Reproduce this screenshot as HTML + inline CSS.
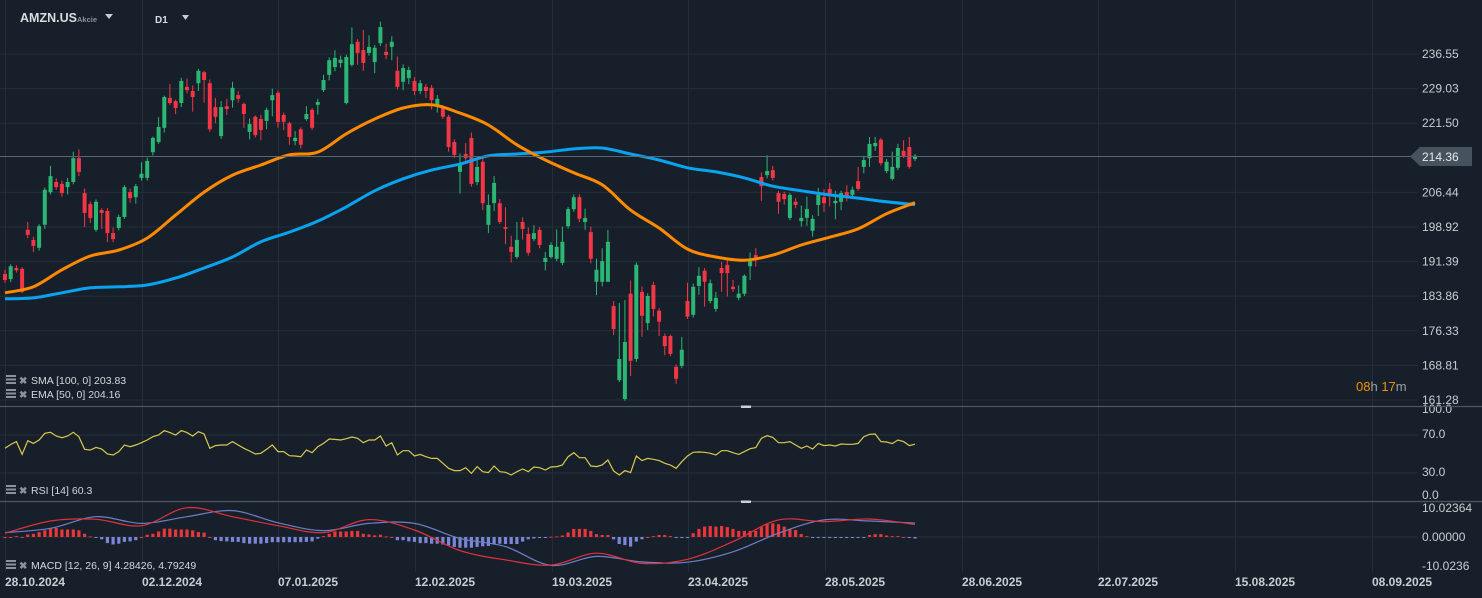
<!DOCTYPE html>
<html><head><meta charset="utf-8"><title>AMZN.US D1</title>
<style>
html,body{margin:0;padding:0;background:#17202a;width:1482px;height:598px;overflow:hidden}
svg{display:block;font-family:"Liberation Sans",sans-serif}
</style></head>
<body>
<svg id="chart" width="1482" height="598" viewBox="0 0 1482 598" xmlns="http://www.w3.org/2000/svg">
<rect x="0" y="0" width="1482" height="598" fill="#17202a"/>
<g id="grid" stroke="#242e38" stroke-width="1"></g>
<g id="candles"></g>
<g id="mas"></g>
<line x1="0" y1="156.5" x2="1412" y2="156.5" stroke="#5b6670" stroke-width="1"/>
<g>
<polygon points="1410,156.5 1420,147 1472,147 1472,166 1420,166" fill="#46535e"/>
<text x="1422" y="161" font-size="12" fill="#e6e9ec">214.36</text>
</g>
<g id="axis" font-size="12" fill="#c9cdd1"></g>
<g id="rsi"></g>
<g id="macd"></g>
<line x1="0" y1="406.5" x2="1482" y2="406.5" stroke="#4b5662" stroke-width="1.2"/>
<line x1="0" y1="501.5" x2="1482" y2="501.5" stroke="#4b5662" stroke-width="1.2"/>
<rect x="741" y="405.5" width="10" height="2.5" fill="#d0d0d0"/>
<rect x="741" y="500.5" width="10" height="2.5" fill="#d0d0d0"/>
<g id="dates" font-size="12" font-weight="bold" fill="#c9cdd1"></g>
<g>
<text x="20" y="22" font-size="12.5" font-weight="bold" fill="#d8dcdf">AMZN.US</text>
<text x="77" y="22" font-size="7.5" font-weight="bold" fill="#8a939b">Akcie</text>
<polygon points="105,14 113,14 109,19" fill="#c9cdd1"/>
</g>
<g>
<text x="155" y="23" font-size="10" font-weight="bold" fill="#d8dcdf">D1</text>
<polygon points="182,15 189,15 185.5,20" fill="#c9cdd1"/>
</g>
<g font-size="10.5" fill="#d4d8dc">
<rect x="6" y="375" width="10" height="2" fill="#8a939b"/><rect x="6" y="378.5" width="10" height="2" fill="#8a939b"/><rect x="6" y="382" width="10" height="2" fill="#8a939b"/>
<text x="19" y="384" font-size="10" fill="#8a939b" font-weight="bold">✖</text>
<text x="31" y="384">SMA [100,  0] 203.83</text>
</g>
<g font-size="10.5" fill="#d4d8dc">
<rect x="6" y="389" width="10" height="2" fill="#8a939b"/><rect x="6" y="392.5" width="10" height="2" fill="#8a939b"/><rect x="6" y="396" width="10" height="2" fill="#8a939b"/>
<text x="19" y="398" font-size="10" fill="#8a939b" font-weight="bold">✖</text>
<text x="31" y="398">EMA [50,  0] 204.16</text>
</g>
<g font-size="10.5" fill="#d4d8dc">
<rect x="6" y="485" width="10" height="2" fill="#8a939b"/><rect x="6" y="488.5" width="10" height="2" fill="#8a939b"/><rect x="6" y="492" width="10" height="2" fill="#8a939b"/>
<text x="19" y="494" font-size="10" fill="#8a939b" font-weight="bold">✖</text>
<text x="31" y="494">RSI [14]  60.3</text>
</g>
<g font-size="10.5" fill="#d4d8dc">
<rect x="6" y="560" width="10" height="2" fill="#8a939b"/><rect x="6" y="563.5" width="10" height="2" fill="#8a939b"/><rect x="6" y="567" width="10" height="2" fill="#8a939b"/>
<text x="19" y="569" font-size="10" fill="#8a939b" font-weight="bold">✖</text>
<text x="31" y="569">MACD [12,  26,  9] 4.28426,  4.79249</text>
</g>
<text x="1356" y="391" font-size="13"><tspan fill="#f0900a">08</tspan><tspan fill="#9aa2a9">h </tspan><tspan fill="#f0900a">17</tspan><tspan fill="#9aa2a9">m</tspan></text>
</svg>
<script>
const opens=[188.7,187.6,190.0,189.8,198.3,196.1,194.4,199.4,206.5,208.7,208.3,207.6,208.7,213.9,206.3,203.9,198.3,202.6,202.4,197.6,198.7,201.1,206.5,205.4,209.6,209.6,215.2,217.4,220.5,227.0,226.3,225.9,229.4,228.5,230.2,232.6,230.2,225.0,218.7,225.2,226.5,227.6,225.7,219.6,222.9,222.4,222.0,226.5,228.1,223.3,221.5,217.6,220.2,222.4,224.4,225.5,228.7,232.0,233.7,234.6,225.9,234.2,239.2,237.4,236.8,234.8,238.9,237.0,238.1,232.9,230.5,231.3,230.7,228.5,229.4,229.2,225.5,224.8,222.9,217.4,210.9,214.8,218.3,208.7,213.1,199.4,204.1,204.1,198.9,194.6,192.4,200.0,197.4,196.3,198.3,191.3,192.4,192.0,191.1,199.1,202.8,205.4,200.0,197.8,187.0,187.0,187.0,181.7,165.6,161.5,184.4,170.2,184.8,178.0,186.3,180.7,175.2,175.2,168.5,168.7,182.8,179.8,186.1,189.4,182.8,181.1,190.0,190.7,185.9,183.5,184.4,190.4,192.8,209.8,210.2,211.3,206.3,206.1,200.9,204.4,200.2,200.9,198.1,203.7,205.4,207.2,204.1,204.4,206.5,205.9,208.9,212.0,213.9,216.5,217.9,211.1,209.4,211.8,215.5,216.3,213.7];
const closes=[187.4,190.4,189.5,184.8,197.2,194.8,199.1,207.0,210.0,207.6,206.3,208.7,213.9,210.9,202.0,200.9,204.4,202.0,197.6,196.3,201.1,207.6,205.2,207.8,210.5,213.3,218.3,220.7,227.2,225.9,224.8,230.7,228.7,227.2,232.9,230.9,220.2,222.9,225.0,224.6,229.2,226.8,223.5,221.3,218.9,220.0,224.4,227.6,221.8,221.8,218.5,218.3,216.8,223.5,220.5,226.1,230.9,235.2,235.7,235.3,235.9,238.7,236.8,234.6,238.1,237.9,242.4,236.3,239.2,229.4,233.5,233.1,228.5,230.2,228.5,226.5,226.8,222.9,216.3,214.6,212.8,213.9,208.3,212.0,204.1,203.7,208.5,200.0,198.5,193.5,196.1,198.5,193.3,197.6,195.0,192.2,195.0,194.6,195.7,202.8,205.4,200.7,200.9,192.0,189.6,191.5,195.7,176.7,170.2,173.9,169.8,190.7,179.6,183.9,181.1,178.3,173.0,171.3,165.9,172.2,179.4,185.9,188.3,187.0,186.7,183.5,188.9,188.9,185.4,184.4,188.3,191.5,192.2,207.8,211.1,209.6,204.4,205.0,205.9,203.7,200.9,202.8,200.7,205.9,204.1,205.7,204.6,206.3,205.4,207.0,207.2,213.5,217.0,217.2,212.8,213.1,212.0,216.1,214.4,212.0,214.4];
const highs=[189.6,190.8,190.6,190.2,200.0,196.8,199.5,207.5,212.2,209.5,209.0,209.6,215.3,215.8,207.3,204.5,204.9,203.0,203.0,198.8,201.6,208.0,207.3,208.3,213.0,214.0,218.6,222.8,227.5,230.0,226.6,231.4,231.2,229.7,233.3,232.9,231.0,227.0,226.3,226.8,230.5,228.5,226.0,222.5,223.2,223.3,224.9,229.0,228.6,223.8,221.8,219.8,220.6,225.2,224.8,226.8,232.0,235.8,237.4,236.2,236.4,242.3,239.8,241.8,240.6,238.5,243.6,238.8,240.4,236.0,234.3,233.8,231.5,230.9,230.0,229.8,227.6,225.4,223.3,218.0,214.9,217.2,219.5,213.6,214.3,206.0,210.0,205.0,203.2,197.0,200.0,201.0,198.8,199.3,198.9,193.5,195.6,198.4,199.0,203.3,206.0,206.0,202.9,199.0,192.0,194.3,198.3,182.8,182.4,183.0,187.3,191.2,186.0,184.5,187.0,181.3,175.8,175.5,169.0,175.0,186.8,186.6,190.2,190.0,187.5,184.8,191.3,191.8,187.4,186.2,188.6,193.4,194.3,210.8,214.5,212.2,206.8,206.6,206.3,205.2,203.6,205.5,201.5,207.4,207.1,208.5,206.8,206.8,208.0,207.7,212.0,214.4,218.5,218.5,218.3,213.7,215.3,217.0,217.8,218.5,214.8];
const lows=[186.8,186.9,189.0,184.5,196.5,193.5,193.8,198.5,206.0,207.0,205.5,206.0,208.2,210.0,198.9,199.8,197.9,198.5,195.6,195.6,198.2,200.7,204.2,204.0,209.0,209.0,214.5,217.0,219.5,225.5,223.5,225.0,228.0,224.0,228.5,226.0,219.6,221.5,218.1,223.3,224.9,226.0,220.5,218.0,218.4,217.8,220.2,223.0,220.5,220.0,216.8,216.7,216.0,222.0,220.0,223.4,228.3,230.8,232.8,233.6,225.6,233.8,234.2,232.9,236.2,232.4,238.3,235.4,235.2,228.8,228.7,230.0,227.6,227.8,227.0,224.5,223.8,222.4,215.3,214.0,206.2,213.2,207.7,208.0,202.6,197.6,202.4,199.6,195.2,191.2,192.0,196.2,192.7,195.8,194.3,189.5,192.0,191.5,190.6,198.6,202.2,200.0,198.3,191.0,184.1,186.0,187.0,175.4,165.2,161.1,166.5,169.6,175.0,176.5,179.5,175.2,171.0,170.8,164.8,168.2,178.9,179.2,184.2,181.6,182.3,180.5,184.8,183.8,184.8,183.0,183.9,187.4,190.3,204.6,209.5,209.0,201.8,203.8,200.4,203.0,199.0,199.2,196.8,201.3,202.2,203.4,200.6,202.6,204.5,205.3,206.8,210.6,212.0,215.5,212.3,210.6,209.0,211.3,213.9,211.6,213.2];
const emaSample=[184.6,185.9,189.6,192.6,193.9,196.5,201.5,206.5,210.2,212.4,214.6,215.2,219.2,222.4,224.8,225.5,223.7,221.1,216.8,213.5,210.7,208.1,202.6,198.7,194.1,192.4,191.7,192.8,195.0,196.7,198.5,201.8,204.2];
const smaSample=[183.3,183.5,184.6,185.7,185.9,186.3,187.8,190.0,192.4,195.7,197.8,200.2,203.3,206.8,209.4,211.3,212.6,214.4,214.8,215.2,215.9,216.1,214.8,213.5,211.8,210.9,209.6,207.8,206.8,205.9,205.2,204.4,203.8];
const rsiValues=[56.0,60.0,63.0,49.6,64.0,61.2,64.7,71.8,72.8,68.9,67.2,68.9,72.8,68.2,54.9,54.2,57.0,55.3,50.0,48.9,52.5,59.5,57.7,59.5,61.9,64.7,68.2,70.0,74.6,72.5,70.0,74.6,72.5,68.9,73.5,71.1,56.0,58.8,59.5,59.5,63.0,59.5,56.0,53.2,50.0,50.7,54.9,59.5,52.5,52.5,48.2,47.9,47.2,54.2,51.4,57.7,61.2,65.8,65.4,64.7,66.1,67.9,66.5,61.9,64.7,64.7,68.9,58.4,61.9,48.9,53.5,53.5,47.9,49.6,47.2,45.4,45.4,40.2,34.9,32.5,32.5,35.6,29.6,36.7,31.4,30.4,37.4,31.4,
30.7,27.9,31.4,34.2,31.4,36.3,35.6,33.2,36.3,36.7,38.4,47.2,51.4,46.1,46.1,37.4,36.7,38.4,43.7,32.1,27.9,32.5,30.4,47.9,43.0,45.4,44.4,43.0,40.2,38.4,34.9,41.9,47.9,51.8,52.1,51.8,50.7,48.9,53.5,53.5,51.4,49.6,52.5,55.6,56.7,66.5,69.3,67.5,61.9,61.9,63.0,59.5,56.0,58.4,55.3,61.2,58.8,59.5,58.4,60.5,60.2,60.2,61.2,68.2,70.7,71.1,63.0,62.6,60.9,64.7,63.0,58.8,60.3];
const macdSample=[1.3,5.5,6.1,3.9,10.1,7.0,3.9,1.5,6.0,2.4,-4.7,-7.9,-9.7,-5.6,-9.1,-7.7,-1.6,5.9,5.3,6.2,4.3];
const signalSample=[1.5,3.0,7.0,4.7,7.0,9.1,4.9,2.2,4.7,4.7,-0.5,-3.3,-9.8,-6.7,-8.6,-8.7,-5.1,1.3,5.9,5.5,4.8];
const histValues=[0.0,0.0,0.3,0.0,0.9,1.1,1.7,2.3,2.9,3.1,2.6,2.6,2.6,2.3,1.1,0.2,-0.3,-0.8,-2.1,-2.6,-2.3,-1.7,-1.5,-1.1,0.0,0.8,1.1,1.9,2.9,2.9,2.6,2.6,2.6,2.3,1.7,1.5,0.0,-1.1,-1.4,-1.5,-1.7,-1.7,-2.1,-2.3,-2.3,-2.3,-2.1,-1.8,-1.8,-1.8,-1.8,-1.8,-1.8,-1.7,-1.5,-0.6,0.3,1.1,1.9,1.9,1.9,2.1,2.1,1.1,0.9,0.6,0.8,0.2,0.0,-1.1,-1.1,-1.5,-1.7,-2.1,-2.1,-2.3,-2.3,-2.6,-2.9,-3.4,-3.7,-3.7,-3.7,-3.4,-3.2,-3.1,-2.5,-2.3,
-2.4,-2.4,-2.4,-1.6,-0.8,-0.5,-0.2,-0.1,0.1,0.2,0.5,1.6,2.8,2.8,2.8,2.1,1.0,0.7,0.7,-0.8,-2.4,-2.8,-3.3,-1.6,-0.8,0.0,0.3,0.7,0.7,0.3,-0.1,-0.1,-0.1,1.3,2.8,3.6,3.8,3.6,3.8,3.4,2.8,2.1,2.1,2.1,2.1,3.4,4.7,4.7,4.4,3.6,2.8,2.4,1.0,0.3,-0.2,-0.2,-0.2,-0.2,-0.2,-0.2,-0.2,-0.2,-0.2,-0.2,0.7,1.0,1.0,0.5,0.3,0.3,0.0,-0.3,-0.5];
const priceTicks=[236.55,229.03,221.50,206.44,198.92,191.39,183.86,176.33,168.81,161.28];
const dateLabels=["28.10.2024","02.12.2024","07.01.2025","12.02.2025","19.03.2025","23.04.2025","28.05.2025","28.06.2025","22.07.2025","15.08.2025","08.09.2025"];

const NS="http://www.w3.org/2000/svg";
const N=160;
function xAt(i){return 5+i*(910/N);}
function yP(p){return 54+(236.55-p)*4.597;}
function yR(v){return 473-(v-30)*0.95;}
function yM(v){return 537-v*2.9;}
function mk(tag,attrs,parent){const e=document.createElementNS(NS,tag);for(const k in attrs)e.setAttribute(k,attrs[k]);parent.appendChild(e);return e;}
function smooth(pts){let d="M"+pts[0][0].toFixed(1)+","+pts[0][1].toFixed(1);for(let i=0;i<pts.length-1;i++){const p0=pts[Math.max(0,i-1)],p1=pts[i],p2=pts[i+1],p3=pts[Math.min(pts.length-1,i+2)];const c1x=p1[0]+(p2[0]-p0[0])/6,c1y=p1[1]+(p2[1]-p0[1])/6,c2x=p2[0]-(p3[0]-p1[0])/6,c2y=p2[1]-(p3[1]-p1[1])/6;d+=" C"+c1x.toFixed(1)+","+c1y.toFixed(1)+" "+c2x.toFixed(1)+","+c2y.toFixed(1)+" "+p2[0].toFixed(1)+","+p2[1].toFixed(1);}return d;}

const grid=document.getElementById('grid');
const gridX=[5,142,278,415,552,688,825,962,1098,1235,1372];
gridX.forEach(x=>{const l=mk('line',{x1:x+0.5,y1:0,x2:x+0.5,y2:572},grid);

});
const axis=document.getElementById('axis');
priceTicks.forEach(p=>{const y=yP(p);const l=mk('line',{x1:0,y1:y.toFixed(1),x2:1418,y2:y.toFixed(1)},grid);


const t=mk('text',{x:1422,y:(y+4).toFixed(1)},axis);t.textContent=p.toFixed(2);

});

const cg=document.getElementById('candles');
for(let i=0;i<opens.length;i++){const o=opens[i],c=closes[i],up=c>=o;const col=up?'#2bb673':'#f23645';const x=xAt(i);
const w=mk('line',{x1:x.toFixed(1),y1:yP(highs[i]).toFixed(1),x2:x.toFixed(1),y2:yP(lows[i]).toFixed(1),stroke:col,'stroke-width':1},cg);


const top=yP(Math.max(o,c)),bot=yP(Math.min(o,c));
const r=mk('rect',{x:(x-2).toFixed(1),y:top.toFixed(1),width:4,height:Math.max(1,bot-top).toFixed(1),fill:col},cg);

}

const mas=document.getElementById('mas');
const step=N/(emaSample.length-1);
const sma=mk('path',{d:smooth(smaSample.map((v,k)=>[xAt(k*step),yP(v)])),fill:'none',stroke:'#0aa3ef','stroke-width':3,'stroke-linejoin':'round'},mas);


const ema=mk('path',{d:smooth(emaSample.map((v,k)=>[xAt(k*step),yP(v)])),fill:'none',stroke:'#ff8a00','stroke-width':3,'stroke-linejoin':'round'},mas);



const rsi=document.getElementById('rsi');
[70,30].forEach(v=>{const l=mk('line',{x1:0,y1:yR(v).toFixed(1),x2:1418,y2:yR(v).toFixed(1),stroke:'#242e38'},rsi);

});
const rl=mk('polyline',{points:rsiValues.map((v,i)=>xAt(i).toFixed(1)+","+yR(v).toFixed(1)).join(" "),fill:'none',stroke:'#d9c84e','stroke-width':1.2},rsi);


[["100.0",413],["70.0",438],["30.0",476],["0.0",499]].forEach(a=>{const t=mk('text',{x:1422,y:a[1],'font-size':12,fill:'#c9cdd1'},rsi);t.textContent=a[0];

});

const mg=document.getElementById('macd');
const zl=mk('line',{x1:0,y1:yM(0),x2:1418,y2:yM(0),stroke:'#242e38'},mg);


histValues.forEach((v,i)=>{const y0=yM(0),y1=yM(v);const b=mk('rect',{x:(xAt(i)-1.6).toFixed(1),y:Math.min(y0,y1).toFixed(1),width:3.2,height:Math.max(1,Math.abs(y1-y0)).toFixed(1),fill:v>=0?'#e8363a':'#7b86d8'},mg);

});
const mstep=N/(macdSample.length-1);
const sl=mk('path',{d:smooth(signalSample.map((v,k)=>[xAt(k*mstep),yM(v)])),fill:'none',stroke:'#6d7ec9','stroke-width':1.2},mg);


const ml=mk('path',{d:smooth(macdSample.map((v,k)=>[xAt(k*mstep),yM(v)])),fill:'none',stroke:'#e0323c','stroke-width':1.2},mg);


[["10.02364",512],["0.00000",541],["-10.0236",570]].forEach(a=>{const t=mk('text',{x:1422,y:a[1],'font-size':12,fill:'#c9cdd1'},mg);t.textContent=a[0];

});

const dg=document.getElementById('dates');
dateLabels.forEach((d,i)=>{const t=mk('text',{x:gridX[i],y:586},dg);t.textContent=d;

});
</script>
</body></html>
